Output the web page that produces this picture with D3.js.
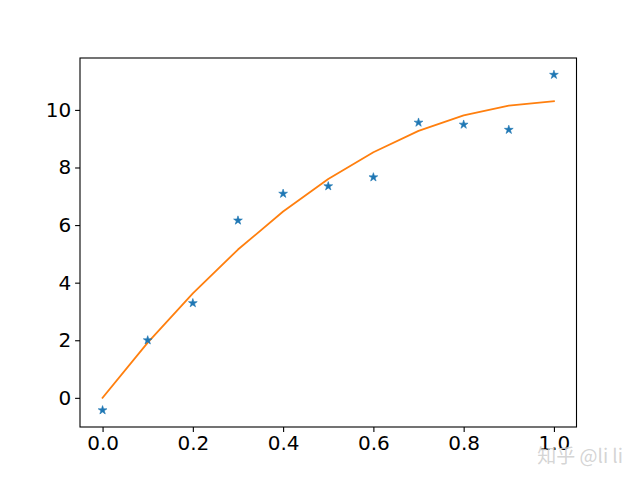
<!DOCTYPE html>
<html>
<head>
<meta charset="utf-8">
<script src="https://cdn.jsdelivr.net/npm/d3@7"></script>
<style>
html,body{margin:0;padding:0;background:#fff;}
svg{display:block;}
</style>
</head>
<body>
<svg id="chart" width="640" height="480"></svg>
<script>
const xValues = [0.0, 0.1, 0.2, 0.3, 0.4, 0.5, 0.6, 0.7, 0.8, 0.9, 1.0];
const observed = [-0.43, 2.0, 3.29, 6.16, 7.09, 7.35, 7.66, 9.56, 9.49, 9.31, 11.22];
const fitted = [0.0, 1.92, 3.63, 5.15, 6.47, 7.6, 8.53, 9.27, 9.81, 10.15, 10.3];
const xTicks = [0.0, 0.2, 0.4, 0.6, 0.8, 1.0];
const yTicks = [0, 2, 4, 6, 8, 10];

const svg = d3.select("#chart");
const L = 80, R = 576.5, T = 58, B = 427;

const xMin = d3.min(xValues), xMax = d3.max(xValues);
const xPad = (xMax - xMin) * 0.05;
const yAll = observed.concat(fitted);
const yMin = d3.min(yAll), yMax = d3.max(yAll);
const yPad = (yMax - yMin) * 0.05;

const x = d3.scaleLinear().domain([xMin - xPad, xMax + xPad]).range([L, R]);
const y = d3.scaleLinear().domain([yMin - yPad, yMax + yPad]).range([B, T]);

// line
svg.append("path")
  .datum(xValues.map((v, i) => [v, fitted[i]]))
  .attr("fill", "none")
  .attr("stroke", "#ff7f0e")
  .attr("stroke-width", 1.8)
  .attr("stroke-linejoin", "round")
  .attr("stroke-linecap", "square")
  .attr("d", d3.line().x(d => x(d[0])).y(d => y(d[1])));

// star markers
const star = d3.symbol().type(d3.symbolStar).size(24);
svg.append("g").selectAll("path")
  .data(xValues.map((v, i) => [v, observed[i]]))
  .join("path")
  .attr("transform", d => `translate(${x(d[0])},${y(d[1])})`)
  .attr("d", star())
  .attr("fill", "#1f77b4")
  .attr("stroke", "#1f77b4")
  .attr("stroke-width", 0.6);

// axes
const xAxis = d3.axisBottom(x).tickValues(xTicks).tickFormat(d3.format(".1f")).tickSize(4.9).tickPadding(4);
const yAxis = d3.axisLeft(y).tickValues(yTicks).tickFormat(d3.format("d")).tickSize(4.9).tickPadding(4);

const gx = svg.append("g").attr("transform", `translate(0,${B})`).call(xAxis);
const gy = svg.append("g").attr("transform", `translate(${L},0)`).call(yAxis);
[gx, gy].forEach(g => {
  g.select(".domain").remove();
  g.selectAll(".tick line").attr("stroke", "#000").attr("stroke-width", 1.1);
  g.selectAll(".tick text").attr("fill", "#000")
    .style("font-family", "DejaVu Sans, sans-serif").style("font-size", "20px");
});

// frame
svg.append("rect")
  .attr("x", L).attr("y", T).attr("width", R - L).attr("height", B - T)
  .attr("fill", "none").attr("stroke", "#000").attr("stroke-width", 1.1);

// watermark
svg.append("text")
  .attr("x", 623).attr("y", 463)
  .attr("text-anchor", "end")
  .attr("fill", "#cfcfcf")
  .attr("fill-opacity", 0.9)
  .style("font-family", "Noto Sans CJK SC, sans-serif")
  .style("font-size", "19px")
  .text("知乎 @li li");
</script>
</body>
</html>
